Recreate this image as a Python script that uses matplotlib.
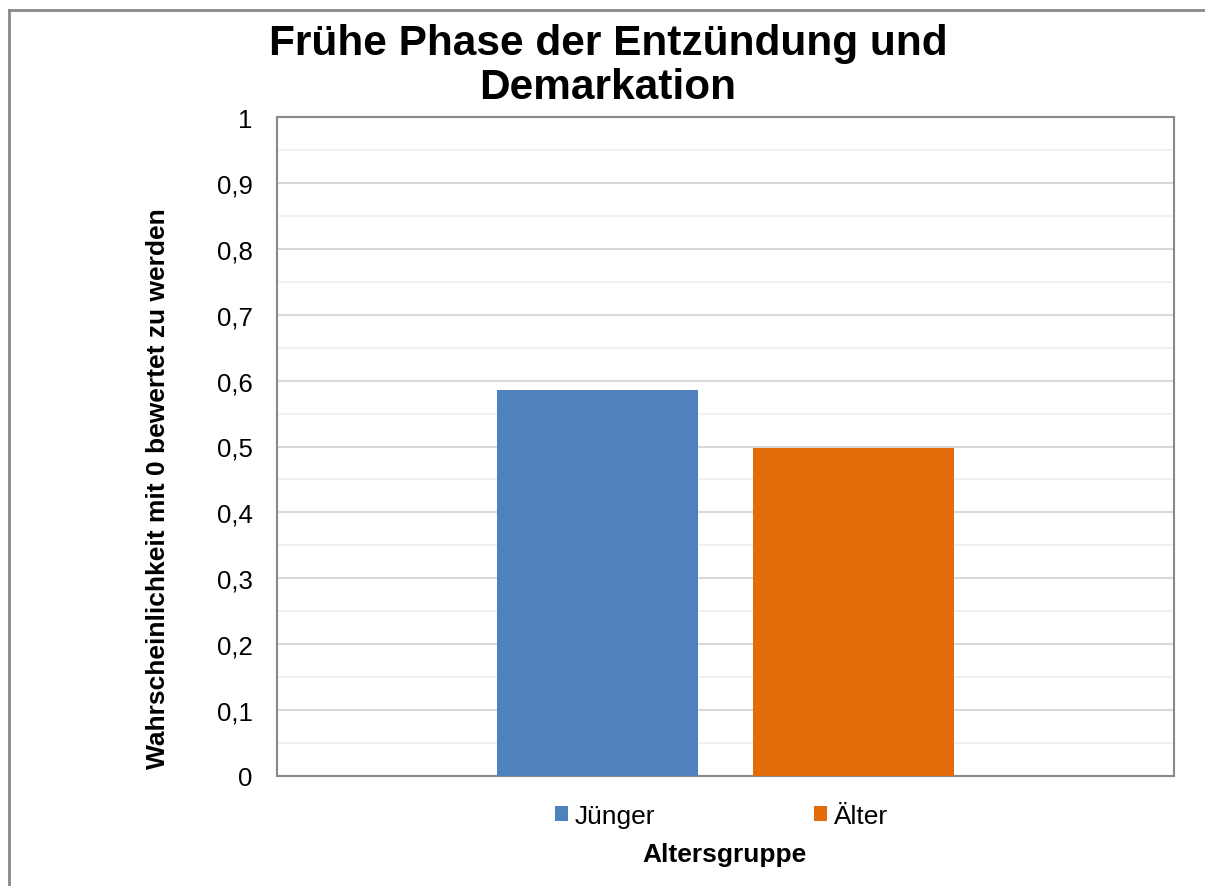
import matplotlib
matplotlib.use("Agg")
import matplotlib.pyplot as plt
from matplotlib.lines import Line2D
from matplotlib.ticker import MultipleLocator, FuncFormatter

plt.rcParams['font.family'] = ['Liberation Sans', 'DejaVu Sans']

series = ["Jünger", "Älter"]
values = [0.586, 0.498]
colors = ["#4f81bd", "#e36c0a"]
y_ticks = [0, 0.1, 0.2, 0.3, 0.4, 0.5, 0.6, 0.7, 0.8, 0.9, 1]

title = "Frühe Phase der Entzündung und\nDemarkation"
x_label = "Altersgruppe"
y_label = "Wahrscheinlichkeit mit 0 bewertet zu werden"

fig = plt.figure(figsize=(12.05, 8.87), dpi=100)
ax = fig.add_axes([277 / 1205, 1 - 777 / 887, 897 / 1205, 659 / 887])

bar_width = 0.224
offsets = [-0.1426, 0.1426]
for off, v, c, name in zip(offsets, values, colors, series):
    ax.bar(off, v, width=bar_width, color=c, label=name, zorder=3)

ax.set_xlim(-0.5, 0.5)
ax.set_ylim(0, 1)
ax.set_xticks([])
ax.set_yticks(y_ticks)
ax.yaxis.set_major_formatter(FuncFormatter(lambda v, p: f"{v:g}".replace(".", ",")))
ax.yaxis.set_minor_locator(MultipleLocator(0.05))
ax.tick_params(axis='y', which='both', length=0, pad=17.5, labelsize=18.5)
ax.grid(axis='y', which='major', color='#d9d9d9', linewidth=1.5, zorder=0)
ax.grid(axis='y', which='minor', color='#f0f0f0', linewidth=1.5, zorder=0)
for s in ax.spines.values():
    s.set_color('#898989')
    s.set_linewidth(1.5)

ax.set_ylabel(y_label, fontsize=19, fontweight='bold')
ax.yaxis.set_label_coords(-0.119, 0.437)

ax.legend(loc='center', bbox_to_anchor=(0.4955, -0.061), ncol=2, frameon=False,
          fontsize=19, handlelength=0.5, handleheight=0.5, handletextpad=0.25,
          columnspacing=6.0)

fig.text(724 / 1205, 1 - 855 / 887, x_label, ha='center', va='center',
         fontsize=19, fontweight='bold')

fig.text(608 / 1205, 1 - 66 / 887, title, ha='center', va='center',
         fontsize=30.5, fontweight='bold', linespacing=1.13)

# outer chart frame
fig.add_artist(Line2D([9 / 1205, 9 / 1205], [0, 1 - 11 / 887], transform=fig.transFigure,
                      color='#898989', linewidth=2))
fig.add_artist(Line2D([9 / 1205, 1], [1 - 11 / 887, 1 - 11 / 887], transform=fig.transFigure,
                      color='#898989', linewidth=2))

fig.savefig("out.png", dpi=100, facecolor='white')
